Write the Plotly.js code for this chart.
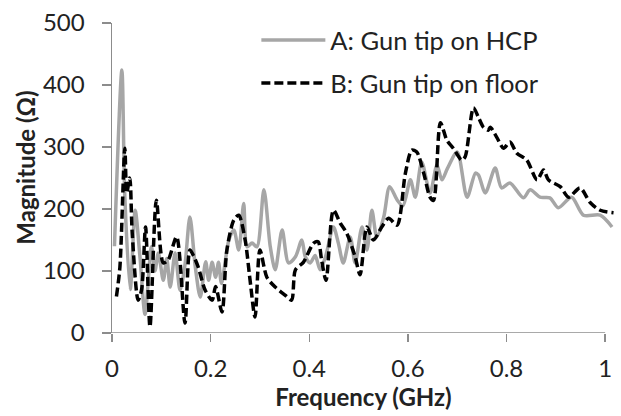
<!DOCTYPE html>
<html>
<head>
<meta charset="utf-8">
<script src="https://cdn.plot.ly/plotly-3.0.1.min.js"></script>
<style>html,body{margin:0;padding:0;background:#fff;}#chart{width:621px;height:416px;}</style>
</head>
<body>
<div id="chart"></div>
<script>
// Series A: Gun tip on HCP (grey, solid)
const freqA = [0.005,0.02,0.026,0.037,0.047,0.057,0.067,0.08,0.087,0.094,0.104,0.111,0.118,0.128,0.138,0.148,0.158,0.169,0.179,0.19,0.196,0.203,0.21,0.216,0.222,0.237,0.247,0.257,0.267,0.274,0.284,0.294,0.308,0.321,0.331,0.345,0.358,0.372,0.385,0.392,0.402,0.412,0.422,0.433,0.449,0.459,0.469,0.483,0.493,0.507,0.517,0.527,0.537,0.551,0.563,0.578,0.59,0.605,0.615,0.628,0.645,0.659,0.669,0.68,0.7,0.72,0.737,0.743,0.757,0.777,0.79,0.807,0.834,0.848,0.868,0.888,0.905,0.932,0.956,0.99,1.014];
const magA  = [140,424,220,70,198,120,30,139,100,129,85,120,74,129,69,110,187,106,58,115,85,114,90,114,80,150,166,134,209,139,145,139,231,139,102,166,113,123,150,123,113,125,102,123,171,145,113,155,113,171,134,198,155,187,236,215,205,247,219,276,226,271,247,265,292,219,258,255,226,266,234,242,218,231,219,218,202,219,190,190,171];
// Series B: Gun tip on floor (black, dashed)
const freqB = [0.009,0.016,0.026,0.03,0.036,0.041,0.053,0.06,0.068,0.077,0.09,0.104,0.114,0.131,0.148,0.158,0.165,0.175,0.189,0.203,0.21,0.223,0.233,0.247,0.257,0.27,0.28,0.29,0.3,0.314,0.331,0.351,0.364,0.372,0.388,0.409,0.418,0.425,0.434,0.449,0.463,0.476,0.493,0.503,0.517,0.53,0.547,0.561,0.578,0.595,0.608,0.618,0.632,0.645,0.652,0.666,0.679,0.692,0.709,0.716,0.733,0.743,0.753,0.763,0.767,0.78,0.794,0.807,0.821,0.841,0.862,0.875,0.885,0.909,0.926,0.949,0.97,0.99,1.017];
const magB  = [59,106,298,226,250,161,53,70,171,10,214,113,118,155,16,134,125,106,69,53,75,34,134,182,190,150,85,26,134,90,74,61,53,102,114,145,147,118,85,198,177,161,123,94,171,150,171,185,174,258,295,292,258,219,214,339,311,298,279,284,363,348,332,327,332,316,298,308,290,279,247,263,247,236,219,234,210,198,194];

const xTickVals = [0,0.2,0.4,0.6,0.8,1];
const xTickText = ["0","0.2","0.4","0.6","0.8","1"];
const yTickVals = [0,100,200,300,400,500];
const seriesNames = ["A: Gun tip on HCP","B: Gun tip on floor"];

const font = "Lato, 'Open Sans', sans-serif";
const axisColor = "#8c8c8c";
const textColor = "#222";

const traces = [
  {x: freqA, y: magA, name: seriesNames[0], type: "scatter", mode: "lines",
   line: {color: "#a6a6a6", width: 3.5, shape: "spline", smoothing: 0.8}, legendgroup: "a"},
  {x: freqB, y: magB, name: seriesNames[1], type: "scatter", mode: "lines",
   line: {color: "#000000", width: 3.5, dash: "9px,4px", shape: "spline", smoothing: 0.8}, legendgroup: "b"}
];

const layout = {
  width: 621, height: 416,
  margin: {l: 112, r: 6, t: 23, b: 83},
  paper_bgcolor: "#fff", plot_bgcolor: "#fff",
  font: {family: font, color: textColor, size: 24},
  showlegend: true,
  legend: {x: 0.287, y: 1.02, xanchor: "left", yanchor: "top",
           font: {size: 25.5, family: font, color: textColor},
           bgcolor: "rgba(0,0,0,0)", traceorder: "grouped", tracegroupgap: 7,
           itemwidth: 64},
  xaxis: {range: [0, 1.02], tickvals: xTickVals, ticktext: xTickText,
          showgrid: false, zeroline: false, showline: false,
          ticks: "outside", ticklen: 8, tickwidth: 1.5, tickcolor: axisColor,
          ticklabelstandoff: 6,
          tickfont: {size: 24, family: font, color: textColor},
          title: {text: "Frequency (GHz)", font: {size: 24, family: font, color: textColor, weight: "bold"}, standoff: 4}},
  yaxis: {range: [0, 500], tickvals: yTickVals,
          showgrid: false, zeroline: false, showline: true, linecolor: axisColor, linewidth: 1.5,
          ticks: "outside", ticklen: 9, tickwidth: 1.5, tickcolor: axisColor,
          ticklabelstandoff: 12,
          tickfont: {size: 24, family: font, color: textColor}},
  annotations: [{text: "Magnitude (Ω)", textangle: -90, xref: "paper", yref: "paper",
                 x: -0.172, y: 0.535, xanchor: "center", yanchor: "middle", showarrow: false,
                 font: {size: 24, family: font, color: textColor, weight: "bold"}}],
  shapes: [{type: "line", xref: "x", yref: "y", x0: 0, x1: 1, y0: 0, y1: 0,
            line: {color: axisColor, width: 1.5}, layer: "below"}]
};

Plotly.newPlot("chart", traces, layout, {displayModeBar: false, staticPlot: true});
</script>
</body>
</html>
